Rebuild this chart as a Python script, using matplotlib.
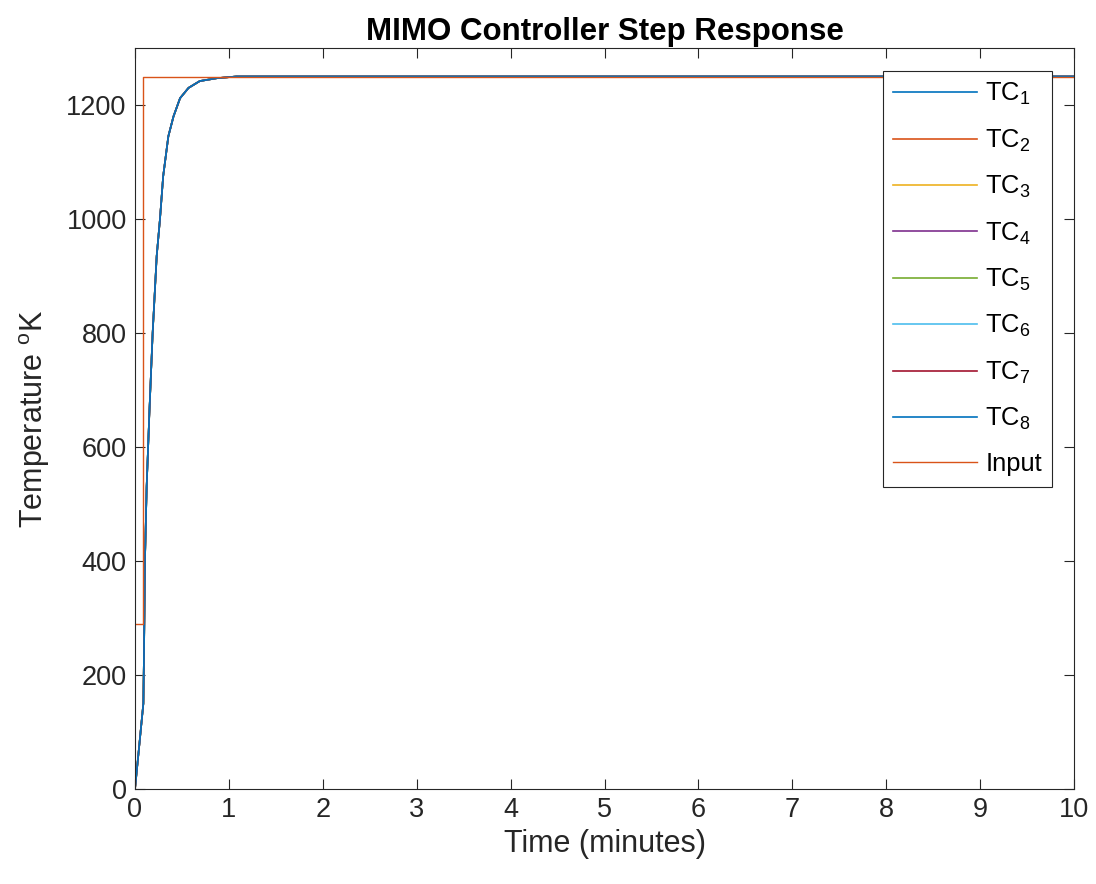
import numpy as np
import matplotlib
matplotlib.use('Agg')
import matplotlib.pyplot as plt

# MATLAB 风格字体
plt.rcParams['font.family'] = ['Liberation Sans', 'DejaVu Sans']
plt.rcParams['mathtext.fontset'] = 'custom'
plt.rcParams['mathtext.rm'] = 'Liberation Sans'
plt.rcParams['mathtext.it'] = 'Liberation Sans'

# 数据
t_tc = [0, 0.089, 0.096, 0.106, 0.124, 0.153, 0.188, 0.231, 0.266, 0.30,
        0.355, 0.41, 0.48, 0.57, 0.69, 0.87, 1.08, 10]
v_tc = [0, 150, 240, 400, 530, 660, 800, 935, 1000, 1075,
        1145, 1180, 1212, 1230, 1242, 1247, 1250, 1250]
t_in = [0, 0.089, 0.089, 10]
v_in = [290, 290, 1250, 1250]

labels = ['TC$_{%d}$' % i for i in range(1, 9)]
colors = ['#0072BD', '#D95319', '#EDB120', '#7E2F8E',
          '#77AC30', '#4DBEEE', '#A2142F', '#0072BD']
input_color = '#D95319'
xticks = np.arange(0, 11, 1)
yticks = np.arange(0, 1201, 200)

fig = plt.figure(figsize=(10.96, 8.84), dpi=100)
ax = fig.add_axes([135/1096, 1-789/884, (1074-135)/1096, (789-48)/884])

for lab, c in zip(labels, colors):
    ax.plot(t_tc, v_tc, color=c, linewidth=1.2, label=lab)
ax.plot(t_in, v_in, color=input_color, linewidth=1.0, label='Input')

ax.set_xlim(0, 10)
ax.set_ylim(0, 1300)
ax.set_xticks(xticks)
ax.set_yticks(yticks)

dark = '#262626'
ax.tick_params(direction='in', length=7, width=0.8, colors=dark,
               labelsize=19.5, top=True, right=True, pad=6)
for s in ax.spines.values():
    s.set_color(dark)
    s.set_linewidth(0.8)

ax.set_xlabel('Time (minutes)', fontsize=22, color=dark, labelpad=4)
ax.set_ylabel('Temperature $^{\\mathrm{o}}$K', fontsize=22, color=dark, labelpad=10)
ax.set_title('MIMO Controller Step Response', fontsize=22.5, fontweight='bold',
             color='black', pad=6)

leg = ax.legend(loc='upper right', bbox_to_anchor=(1052/1096, 1-71/884),
                bbox_transform=fig.transFigure, borderaxespad=0,
                fontsize=18.4, handlelength=3.3, handletextpad=0.3,
                labelspacing=0.79, borderpad=0.4, fancybox=False,
                framealpha=1, edgecolor=dark)
leg.get_frame().set_linewidth(0.8)

fig.savefig('out.png', dpi=100)
